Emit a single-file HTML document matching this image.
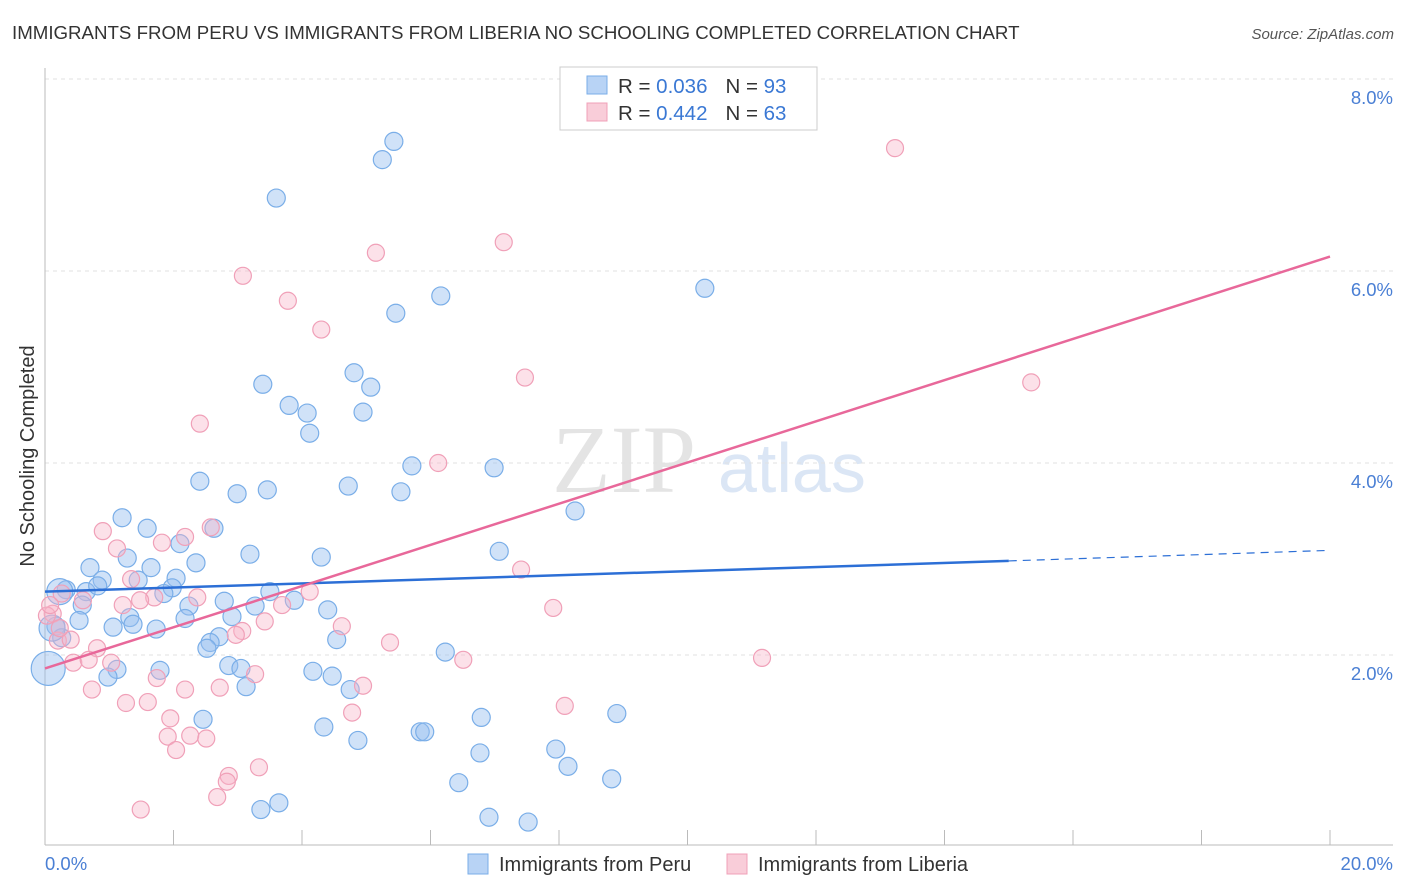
<!DOCTYPE html>
<html><head><meta charset="utf-8"><style>
body{margin:0;background:#fff;font-family:"Liberation Sans",sans-serif}
svg{display:block}
</style></head><body>
<svg id="chart" width="1406" height="892">
<text x="12" y="39" font-size="18.7" fill="#333">IMMIGRANTS FROM PERU VS IMMIGRANTS FROM LIBERIA NO SCHOOLING COMPLETED CORRELATION CHART</text>
<text x="1394" y="39" font-size="15" fill="#555" font-style="italic" text-anchor="end">Source: ZipAtlas.com</text>
<text transform="translate(34,456) rotate(-90)" font-size="20" fill="#333" text-anchor="middle">No Schooling Completed</text>
<g>
<text x="552" y="492" font-family="Liberation Serif,serif" font-size="96" fill="#e4e4e4">ZIP</text>
<text x="718" y="492" font-size="70" fill="#dbe6f5">atlas</text>
</g>
<g id="grid"></g>
<g id="axes"></g>
<g id="points"></g>
<g id="lines"></g>
<g>
<rect x="560" y="67" width="257" height="63" fill="#fff" stroke="#ccc"/>
<rect x="587" y="76" width="20" height="18" fill="#b8d3f5" stroke="#7aaee8"/>
<rect x="587" y="103" width="20" height="18" fill="#f9cdd9" stroke="#f0a0b8"/>
<text x="618" y="93" font-size="20.5" fill="#333">R = <tspan fill="#3a78d4">0.036</tspan><tspan dx="18">N = </tspan><tspan fill="#3a78d4">93</tspan></text>
<text x="618" y="120" font-size="20.5" fill="#333">R = <tspan fill="#3a78d4">0.442</tspan><tspan dx="18">N = </tspan><tspan fill="#3a78d4">63</tspan></text>
</g>
<g>
<rect x="468" y="854" width="20" height="20" fill="#b8d3f5" stroke="#7aaee8"/>
<text x="499" y="871" font-size="20" fill="#333">Immigrants from Peru</text>
<rect x="727" y="854" width="20" height="20" fill="#f9cdd9" stroke="#f0a0b8"/>
<text x="758" y="871" font-size="20" fill="#333">Immigrants from Liberia</text>
</g>
</svg>
<script>
const peruX=[5.43,5.25,3.60,10.27,6.16,5.46,4.81,3.39,5.07,3.80,4.08,4.95,4.12,5.71,6.99,2.41,4.72,3.46,2.99,5.54,8.25,1.20,2.63,1.59,2.10,7.07,3.19,4.30,1.28,0.70,1.65,2.35,2.04,0.89,1.45,0.33,0.64,0.82,1.98,1.85,3.50,3.88,2.79,0.58,2.24,3.27,4.40,2.91,0.53,2.18,1.32,1.06,1.37,1.73,0.17,0.26,2.71,2.57,2.52,4.54,6.23,2.86,3.05,1.79,1.12,4.17,4.47,0.98,3.13,4.75,2.46,6.79,8.90,5.84,5.91,4.34,4.87,7.95,6.77,8.14,8.82,6.44,3.64,3.36,6.91,7.52,0.05,0.23,0.11];
const peruY=[7.35,7.16,6.76,5.82,5.74,5.56,4.94,4.82,4.79,4.60,4.52,4.53,4.31,3.97,3.95,3.81,3.76,3.72,3.68,3.70,3.50,3.43,3.32,3.32,3.16,3.08,3.05,3.02,3.01,2.91,2.91,2.96,2.80,2.78,2.78,2.68,2.66,2.72,2.70,2.64,2.66,2.57,2.56,2.52,2.51,2.51,2.47,2.40,2.36,2.38,2.39,2.29,2.32,2.27,2.30,2.18,2.19,2.13,2.07,2.16,2.03,1.89,1.86,1.84,1.85,1.83,1.78,1.77,1.67,1.64,1.33,1.35,1.39,1.20,1.20,1.25,1.11,1.02,0.98,0.84,0.71,0.67,0.46,0.39,0.31,0.26,1.86,2.66,2.28];
const peruR=[9,9,9,9,9,9,9,9,9,9,9,9,9,9,9,9,9,9,9,9,9,9,9,9,9,9,9,9,9,9,9,9,9,9,9,9,9,9,9,9,9,9,9,9,9,9,9,9,9,9,9,9,9,9,9,9,9,9,9,9,9,9,9,9,9,9,9,9,9,9,9,9,9,9,9,9,9,9,9,9,9,9,9,9,9,9,17,13,13];
const libX=[13.23,7.14,5.15,3.08,3.78,4.30,7.47,15.35,2.41,6.12,2.58,0.90,2.18,1.82,1.12,7.41,1.34,4.12,0.26,2.37,1.70,1.48,3.69,1.21,7.91,3.42,4.62,3.07,2.97,5.37,0.12,0.20,0.81,1.03,0.44,0.68,6.51,11.16,3.27,1.74,2.18,4.95,0.73,2.72,1.26,1.60,4.78,8.09,1.95,1.91,2.26,2.51,2.04,3.33,2.86,2.83,2.68,1.49,0.03,0.08,0.40,0.23,0.59];
const libY=[7.28,6.30,6.19,5.95,5.69,5.39,4.89,4.84,4.41,4.00,3.33,3.29,3.23,3.17,3.11,2.89,2.79,2.66,2.64,2.60,2.60,2.57,2.52,2.52,2.49,2.35,2.30,2.25,2.21,2.13,2.43,2.15,2.07,1.92,1.92,1.95,1.95,1.97,1.80,1.76,1.64,1.68,1.64,1.66,1.50,1.51,1.40,1.47,1.34,1.15,1.16,1.13,1.01,0.83,0.74,0.68,0.52,0.39,2.41,2.52,2.16,2.28,2.57];
const peruTrend=[[0,2.66],[15,2.98],[20,3.09]];
const libTrend=[[0,1.86],[20,6.15]];
const yTicks=[2,4,6,8];
const yTickLabels=["2.0%","4.0%","6.0%","8.0%"];
const xTicks=[0,2,4,6,8,10,12,14,16,18,20];

const NS="http://www.w3.org/2000/svg";
const xs=v=>45+v*64.25, ys=v=>847-v*96;
function mk(parent,tag,attrs){const e=document.createElementNS(NS,tag);for(const k in attrs)e.setAttribute(k,attrs[k]);document.getElementById(parent).appendChild(e);return e;}
yTicks.forEach((t,i)=>{
  const g=mk('grid','line',{x1:45,x2:1393,y1:ys(t),y2:ys(t),stroke:'#e2e2e2','stroke-dasharray':'4,4'});
  
  
  const l=mk('grid','text',{x:1393,y:ys(t)+25,'text-anchor':'end','font-size':18.5,fill:'#4a7fd4'});
  l.textContent=yTickLabels[i];
  
  
});
const ax=mk('axes','line',{x1:45,x2:45,y1:68,y2:845,stroke:'#bbb'});


const bx=mk('axes','line',{x1:45,x2:1393,y1:845,y2:845,stroke:'#bbb'});


xTicks.forEach(t=>{
  const k=mk('axes','line',{x1:xs(t),x2:xs(t),y1:830,y2:845,stroke:'#bbb'});
  
  
});
const x0=mk('axes','text',{x:45,y:870,'font-size':18.5,fill:'#4a7fd4'});x0.textContent='0.0%';


const x1=mk('axes','text',{x:1393,y:870,'font-size':18.5,fill:'#4a7fd4','text-anchor':'end'});x1.textContent='20.0%';


peruX.forEach((v,i)=>{
  const c=mk('points','circle',{cx:xs(v),cy:ys(peruY[i]),r:peruR[i],fill:'rgba(150,190,240,0.45)',stroke:'#7aaee8','stroke-width':1.2});
  
  
});
libX.forEach((v,i)=>{
  const c=mk('points','circle',{cx:xs(v),cy:ys(libY[i]),r:8.5,fill:'rgba(248,180,200,0.4)',stroke:'#f0a0b8','stroke-width':1.2});
  
  
});
const pl=mk('lines','line',{x1:xs(peruTrend[0][0]),y1:ys(peruTrend[0][1]),x2:xs(peruTrend[1][0]),y2:ys(peruTrend[1][1]),stroke:'#2c6fd6','stroke-width':2.5});


const pd=mk('lines','line',{x1:xs(peruTrend[1][0]),y1:ys(peruTrend[1][1]),x2:xs(peruTrend[2][0]),y2:ys(peruTrend[2][1]),stroke:'#2c6fd6','stroke-width':1.2,'stroke-dasharray':'8,6'});


const ll=mk('lines','line',{x1:xs(libTrend[0][0]),y1:ys(libTrend[0][1]),x2:xs(libTrend[1][0]),y2:ys(libTrend[1][1]),stroke:'#e8689a','stroke-width':2.5});


</script>
</body></html>
